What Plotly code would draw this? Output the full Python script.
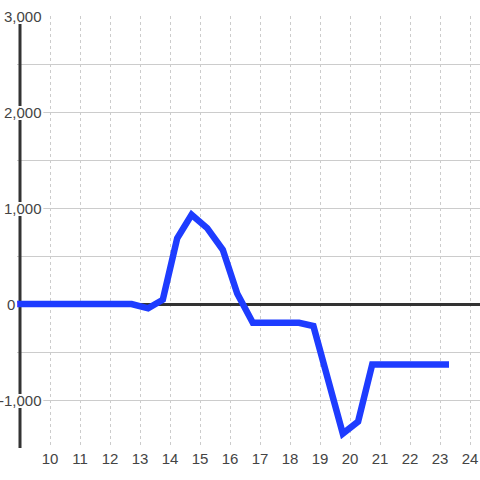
import plotly.graph_objects as go

# Data
hours = [8.75, 9.25, 9.75, 10.25, 10.75, 11.25, 11.75, 12.25, 12.72, 13.27,
         13.76, 14.24, 14.72, 15.24, 15.76, 16.24, 16.76, 17.27, 17.78, 18.3,
         18.78, 19.27, 19.76, 20.27, 20.74, 21.25, 21.75, 22.25, 22.75, 23.3]
values = [0, 0, 0, 0, 0, 0, 0, 0, 0, -45,
          45, 685, 930, 790, 565, 110, -195, -195, -195, -195,
          -230, -790, -1350, -1225, -630, -630, -630, -630, -630, -630]

x_ticks = list(range(10, 25))
x_tick_labels = [str(v) for v in x_ticks]
y_ticks = [-1000, 0, 1000, 2000, 3000]
y_tick_labels = ["-1,000", "0", "1,000", "2,000", "3,000"]

FONT = "Liberation Sans, Arial, sans-serif"
TEXT = "#444444"

fig = go.Figure()
fig.add_trace(go.Scatter(
    x=hours, y=values, mode="lines",
    line=dict(color="#1e3cff", width=6.5),
    hoverinfo="skip",
))

# y axis line (drawn under the data line)
fig.add_shape(type="line", xref="x", yref="y", x0=9, x1=9, y0=-1500, y1=3000,
              line=dict(color="#333333", width=3), layer="between")

shadow = ("2px 0px 0px #fff, -2px 0px 0px #fff, 0px 2px 0px #fff, 0px -2px 0px #fff, "
          "2px 2px 0px #fff, -2px -2px 0px #fff, 2px -2px 0px #fff, -2px 2px 0px #fff")
for v, lab in zip(y_ticks, y_tick_labels):
    fig.add_annotation(
        x=0, xref="paper", y=v, yref="y", text=lab, showarrow=False,
        xanchor="right", yanchor="middle", borderpad=0,
        xshift=(-1 if v == 0 else 26),
        font=dict(family=FONT, size=15, color=TEXT, shadow=shadow),
    )

fig.update_layout(
    width=480, height=480,
    margin=dict(l=17, r=0, t=16, b=32),
    paper_bgcolor="white", plot_bgcolor="white",
    showlegend=False,
    font=dict(family=FONT, size=15, color=TEXT),
    xaxis=dict(
        range=[8.9, 24.333], tickmode="array", tickvals=x_ticks, ticktext=x_tick_labels,
        showgrid=True, gridcolor="#cccccc", gridwidth=1, griddash="dot",
        zeroline=False, showline=False, ticks="", layer="below traces",
        tickfont=dict(family=FONT, size=15, color=TEXT), fixedrange=True,
    ),
    yaxis=dict(
        range=[-1500, 3000], dtick=500, tick0=0,
        showgrid=True, gridcolor="#cccccc", gridwidth=1,
        zeroline=True, zerolinecolor="#333333", zerolinewidth=3,
        showticklabels=False, showline=False, ticks="", layer="below traces",
        fixedrange=True,
    ),
)

fig.write_html("out.html", config={"displayModeBar": False},
               post_script="document.body.style.margin='0';")
